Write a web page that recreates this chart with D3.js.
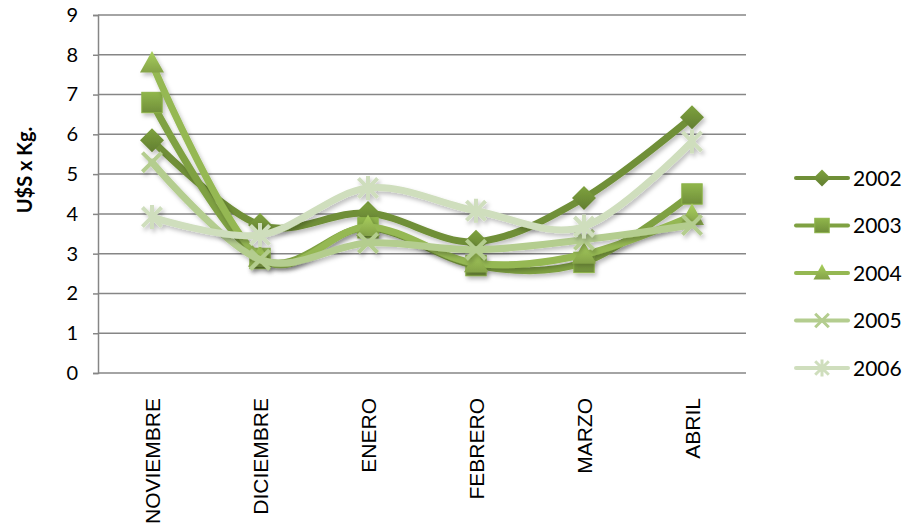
<!DOCTYPE html>
<html>
<head>
<meta charset="utf-8">
<script src="https://cdn.jsdelivr.net/npm/d3@7"></script>
<style>
  body { margin: 0; background: #fff; }
  svg { display: block; }
</style>
</head>
<body>
<div id="chart"></div>
<script>
var months = ['NOVIEMBRE', 'DICIEMBRE', 'ENERO', 'FEBRERO', 'MARZO', 'ABRIL'];
var years = ['2002', '2003', '2004', '2005', '2006'];
var v2002 = [5.85, 3.72, 4.02, 3.3, 4.4, 6.43];
var v2003 = [6.8, 2.88, 3.65, 2.7, 2.78, 4.5];
var v2004 = [7.78, 2.9, 3.67, 2.76, 2.98, 3.95];
var v2005 = [5.3, 2.85, 3.27, 3.1, 3.35, 3.72];
var v2006 = [3.92, 3.47, 4.65, 4.08, 3.68, 5.82];
var yTicks = [0, 1, 2, 3, 4, 5, 6, 7, 8, 9];

var colors = ['#6f8f37', '#7fa142', '#95b852', '#b4cd8f', '#cfdebd'];
var shapes = ['diamond', 'square', 'triangle', 'x', 'star'];
var series = [v2002, v2003, v2004, v2005, v2006].map(function (v, i) {
  return { name: years[i], values: v, color: colors[i], shape: shapes[i] };
});

var w = 914, h = 530;
var svg = d3.select('#chart').append('svg').attr('width', w).attr('height', h);
var defs = svg.append('defs');

var shadow = defs.append('filter').attr('id', 'shadow')
  .attr('x', '-30%').attr('y', '-30%').attr('width', '160%').attr('height', '160%');
shadow.append('feDropShadow').attr('dx', 2).attr('dy', 3).attr('stdDeviation', 2)
  .attr('flood-color', '#000').attr('flood-opacity', 0.25);

series.forEach(function (s, i) {
  var g = defs.append('linearGradient').attr('id', 'grad' + i)
    .attr('x1', 0).attr('y1', 0).attr('x2', 0).attr('y2', 1);
  g.append('stop').attr('offset', '0%').attr('stop-color', d3.color(s.color).brighter(0.35));
  g.append('stop').attr('offset', '100%').attr('stop-color', d3.color(s.color).darker(0.35));
});

var x = d3.scalePoint().domain(months).range([98, 746]).padding(0.5);
var y = d3.scaleLinear().domain([0, 9]).range([373, 15]);

// gridlines
svg.append('g').selectAll('line').data(yTicks.slice(1)).enter().append('line')
  .attr('x1', 98).attr('x2', 746)
  .attr('y1', function (d) { return y(d); }).attr('y2', function (d) { return y(d); })
  .attr('stroke', '#868686').attr('stroke-width', 1.5);

// y axis
var yAxis = svg.append('g').attr('transform', 'translate(98,0)')
  .call(d3.axisLeft(y).tickValues(yTicks).tickSize(5).tickPadding(15));
yAxis.selectAll('line, path').attr('stroke', '#868686').attr('stroke-width', 1.5);
yAxis.selectAll('text').attr('font-family', 'Lato, "Open Sans", sans-serif')
  .attr('font-size', 20).attr('fill', '#000');

// bottom axis line
svg.append('line').attr('x1', 98).attr('x2', 746)
  .attr('y1', y(0)).attr('y2', y(0))
  .attr('stroke', '#868686').attr('stroke-width', 1.5);

// x labels
svg.append('g').selectAll('text').data(months).enter().append('text')
  .attr('transform', function (d) { return 'translate(' + (x(d) + 8) + ',398) rotate(-90)'; })
  .attr('text-anchor', 'end')
  .attr('font-family', '"Liberation Sans", Arial, sans-serif')
  .attr('font-size', 21).attr('fill', '#000')
  .text(function (d) { return d; });

// y title
svg.append('text')
  .attr('transform', 'translate(32,170) rotate(-90)')
  .attr('text-anchor', 'middle')
  .attr('font-family', 'Lato, "Open Sans", sans-serif')
  .attr('font-weight', 'bold').attr('font-size', 20).attr('fill', '#000')
  .text('U$S x Kg.');

function drawMarker(g, shape, cx, cy, size, i, color) {
  var r = size / 2;
  if (shape === 'diamond') {
    g.append('path').attr('d', 'M' + cx + ',' + (cy - r) + 'L' + (cx + r) + ',' + cy +
        'L' + cx + ',' + (cy + r) + 'L' + (cx - r) + ',' + cy + 'Z')
      .attr('fill', 'url(#grad' + i + ')');
  } else if (shape === 'square') {
    var q = r * 0.85;
    g.append('rect').attr('x', cx - q).attr('y', cy - q).attr('width', 2 * q).attr('height', 2 * q)
      .attr('fill', 'url(#grad' + i + ')').attr('stroke', d3.color(color).brighter(0.3)).attr('stroke-width', 1);
  } else if (shape === 'triangle') {
    g.append('path').attr('d', 'M' + cx + ',' + (cy - r * 1.05) + 'L' + (cx + r) + ',' + (cy + r * 0.75) +
        'L' + (cx - r) + ',' + (cy + r * 0.75) + 'Z')
      .attr('fill', 'url(#grad' + i + ')');
  } else if (shape === 'x') {
    var a = r * 0.8;
    g.append('path').attr('d', 'M' + (cx - a) + ',' + (cy - a) + 'L' + (cx + a) + ',' + (cy + a) +
        'M' + (cx + a) + ',' + (cy - a) + 'L' + (cx - a) + ',' + (cy + a))
      .attr('stroke', color).attr('stroke-width', size > 18 ? 4 : 3).attr('fill', 'none');
  } else {
    var b = r * 0.8;
    g.append('path').attr('d', 'M' + (cx - b) + ',' + (cy - b) + 'L' + (cx + b) + ',' + (cy + b) +
        'M' + (cx + b) + ',' + (cy - b) + 'L' + (cx - b) + ',' + (cy + b) +
        'M' + cx + ',' + (cy - r) + 'L' + cx + ',' + (cy + r))
      .attr('stroke', color).attr('stroke-width', size > 18 ? 4 : 3).attr('fill', 'none');
  }
}

var line = d3.line()
  .x(function (d, i) { return x(months[i]); })
  .y(function (d) { return y(d); })
  .curve(d3.curveCardinal);

series.forEach(function (s, i) {
  var g = svg.append('g').attr('filter', 'url(#shadow)');
  g.append('path').datum(s.values).attr('d', line)
    .attr('fill', 'none').attr('stroke', s.color).attr('stroke-width', 7)
    .attr('stroke-linejoin', 'round').attr('stroke-linecap', 'round');
  s.values.forEach(function (v, j) {
    drawMarker(g, s.shape, x(months[j]), y(v), 24, i, s.color);
  });
});

// legend
var legend = svg.append('g');
series.forEach(function (s, i) {
  var ly = 178 + i * 47.5;
  var g = legend.append('g');
  g.append('line').attr('x1', 796).attr('x2', 848).attr('y1', ly).attr('y2', ly)
    .attr('stroke', s.color).attr('stroke-width', 4).attr('stroke-linecap', 'round');
  drawMarker(g, s.shape, 822, ly, 17, i, s.color);
  g.append('text').attr('x', 853).attr('y', ly + 7.5)
    .attr('font-family', 'Lato, "Open Sans", sans-serif')
    .attr('font-size', 21).attr('fill', '#000')
    .text(s.name);
});
</script>
</body>
</html>
